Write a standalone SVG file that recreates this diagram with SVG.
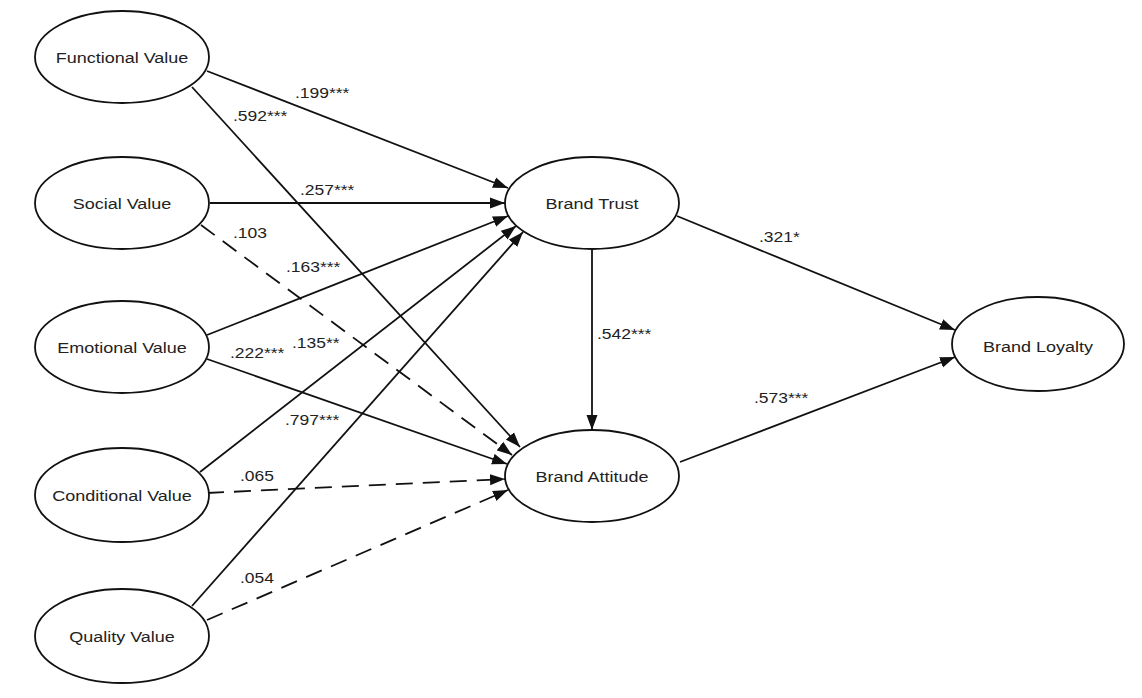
<svg xmlns="http://www.w3.org/2000/svg" width="1142" height="698" viewBox="0 0 1142 698">
<defs>
<style>
.node ellipse{fill:#fff;stroke:#111;stroke-width:1.8}
.node text{font-family:"Liberation Sans",Arial,sans-serif;font-size:15px;fill:#222;text-anchor:middle}
.edges line{stroke:#111;stroke-width:1.8;fill:none}
.edges line.d{stroke-dasharray:17 10}
.lbl{font-family:"Liberation Sans",Arial,sans-serif;font-size:14px;fill:#222}
</style>
<marker id="ah" markerUnits="userSpaceOnUse" markerWidth="16" markerHeight="12" refX="15" refY="5.5" orient="auto" viewBox="0 0 16 11">
<path d="M0,0 L15,5.5 L0,11 z" fill="#111"/>
</marker>
</defs>
<rect width="1142" height="698" fill="#fff"/>
<g class="edges">
<line x1="207" y1="71" x2="508" y2="188" marker-end="url(#ah)"/>
<line x1="192" y1="87" x2="520" y2="447" marker-end="url(#ah)"/>
<line x1="210" y1="203" x2="505" y2="203" marker-end="url(#ah)"/>
<line class="d" x1="201" y1="225" x2="512" y2="455" marker-end="url(#ah)"/>
<line x1="207" y1="335" x2="508" y2="216" marker-end="url(#ah)"/>
<line x1="207" y1="359" x2="507" y2="464" marker-end="url(#ah)"/>
<line x1="200" y1="472" x2="516" y2="226" marker-end="url(#ah)"/>
<line class="d" x1="207" y1="493" x2="505" y2="479" marker-end="url(#ah)"/>
<line x1="192" y1="606" x2="523" y2="232" marker-end="url(#ah)"/>
<line class="d" x1="207" y1="620" x2="508" y2="490" marker-end="url(#ah)"/>
<line x1="592" y1="249" x2="592" y2="430" marker-end="url(#ah)"/>
<line x1="677" y1="216" x2="955" y2="330" marker-end="url(#ah)"/>
<line x1="680" y1="462" x2="955" y2="357" marker-end="url(#ah)"/>
</g>
<g id="labels">
<text class="lbl" transform="translate(295,98) scale(1.25,1)">.199***</text>
<text class="lbl" transform="translate(233,121) scale(1.25,1)">.592***</text>
<text class="lbl" transform="translate(300,195) scale(1.25,1)">.257***</text>
<text class="lbl" transform="translate(233,238) scale(1.25,1)">.103</text>
<text class="lbl" transform="translate(286,272) scale(1.25,1)">.163***</text>
<text class="lbl" transform="translate(230,358) scale(1.25,1)">.222***</text>
<text class="lbl" transform="translate(292,348) scale(1.25,1)">.135**</text>
<text class="lbl" transform="translate(285,425) scale(1.25,1)">.797***</text>
<text class="lbl" transform="translate(240,481) scale(1.25,1)">.065</text>
<text class="lbl" transform="translate(240,583) scale(1.25,1)">.054</text>
<text class="lbl" transform="translate(597,339) scale(1.25,1)">.542***</text>
<text class="lbl" transform="translate(759,242) scale(1.25,1)">.321*</text>
<text class="lbl" transform="translate(754,403) scale(1.25,1)">.573***</text>
</g>
<g id="functional" class="node"><ellipse cx="122" cy="57" rx="87" ry="46"/><text transform="translate(122,63) scale(1.2,1)">Functional Value</text></g>
<g id="social" class="node"><ellipse cx="122" cy="203" rx="87" ry="46"/><text transform="translate(122,209) scale(1.2,1)">Social Value</text></g>
<g id="emotional" class="node"><ellipse cx="122" cy="347" rx="87" ry="46"/><text transform="translate(122,353) scale(1.2,1)">Emotional Value</text></g>
<g id="conditional" class="node"><ellipse cx="122" cy="495" rx="87" ry="47"/><text transform="translate(122,501) scale(1.2,1)">Conditional Value</text></g>
<g id="quality" class="node"><ellipse cx="122" cy="636" rx="87" ry="47"/><text transform="translate(122,642) scale(1.2,1)">Quality Value</text></g>
<g id="trust" class="node"><ellipse cx="592" cy="203" rx="87" ry="46"/><text transform="translate(592,209) scale(1.2,1)">Brand Trust</text></g>
<g id="attitude" class="node"><ellipse cx="592" cy="476" rx="87" ry="46"/><text transform="translate(592,482) scale(1.2,1)">Brand Attitude</text></g>
<g id="loyalty" class="node"><ellipse cx="1038" cy="344" rx="86" ry="47"/><text transform="translate(1038,352) scale(1.2,1)">Brand Loyalty</text></g>
</svg>
